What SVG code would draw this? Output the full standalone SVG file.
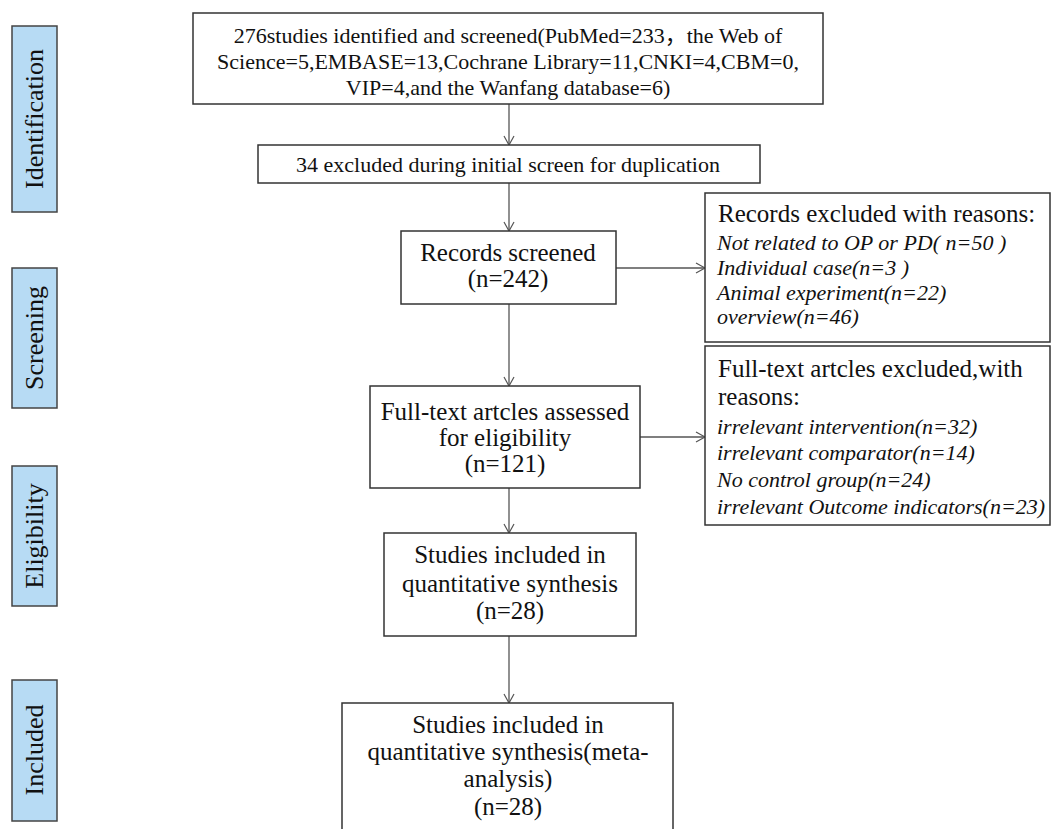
<svg xmlns="http://www.w3.org/2000/svg" width="1052" height="829" viewBox="0 0 1052 829">
<defs>
<marker id="arr" markerWidth="12" markerHeight="12" refX="10" refY="6" orient="auto" markerUnits="userSpaceOnUse">
<path d="M1,1 L10,6 L1,11" fill="none" stroke="#555" stroke-width="1.2"/>
</marker>
</defs>
<style>
.box{fill:#fff;stroke:#333;stroke-width:1.5}
.side{fill:#b7dbf4;stroke:#444;stroke-width:1.5}
.t{font-family:"Liberation Serif","Times New Roman","Noto Sans CJK SC",serif;font-size:25px;fill:#111}
.c{text-anchor:middle}
.sm{font-size:22px}
.i{font-style:italic;font-size:22px}
.s{font-size:26px;text-anchor:middle}
.conn{stroke:#555;stroke-width:1.3;fill:none;marker-end:url(#arr)}
</style>
<rect width="1052" height="829" fill="#fff"/>
<g id="side-identification"><rect class="side" x="12" y="26" width="45" height="186"/><text class="t s" transform="translate(43,119) rotate(-90)">Identification</text></g>
<g id="side-screening"><rect class="side" x="12" y="268" width="45" height="140"/><text class="t s" transform="translate(43,338) rotate(-90)">Screening</text></g>
<g id="side-eligibility"><rect class="side" x="12" y="466" width="45" height="140"/><text class="t s" transform="translate(43,536) rotate(-90)">Eligibility</text></g>
<g id="side-included"><rect class="side" x="12" y="680" width="45" height="141"/><text class="t s" transform="translate(43,750) rotate(-90)">Included</text></g>
<g id="connectors">
<line class="conn" x1="509" y1="104" x2="509" y2="145"/>
<line class="conn" x1="509" y1="183" x2="509" y2="231"/>
<line class="conn" x1="616" y1="268" x2="705" y2="268"/>
<line class="conn" x1="509" y1="304" x2="509" y2="386"/>
<line class="conn" x1="640" y1="437" x2="705" y2="437"/>
<line class="conn" x1="509" y1="488" x2="509" y2="533"/>
<line class="conn" x1="509" y1="636" x2="509" y2="703"/>
</g>
<g id="identified"><rect class="box" x="193" y="13" width="630" height="91"/>
<text class="t sm c" x="508" y="43">276studies identified and screened(PubMed=233，the Web of</text>
<text class="t sm c" x="508" y="69">Science=5,EMBASE=13,Cochrane Library=11,CNKI=4,CBM=0,</text>
<text class="t sm c" x="508" y="95">VIP=4,and the Wanfang database=6)</text></g>
<g id="duplicates"><rect class="box" x="258" y="145" width="502" height="38"/>
<text class="t sm c" x="508" y="172">34 excluded during initial screen for duplication</text></g>
<g id="screened"><rect class="box" x="401" y="231" width="215" height="73"/>
<text class="t c" x="508" y="261">Records screened</text>
<text class="t c" x="508" y="287">(n=242)</text></g>
<g id="excluded-records"><rect class="box" x="705" y="193" width="345" height="149"/>
<text class="t" x="718" y="222">Records excluded with reasons:</text>
<text class="t i" x="717" y="250">Not related to OP or PD( n=50 )</text>
<text class="t i" x="717" y="275">Individual case(n=3 )</text>
<text class="t i" x="717" y="300">Animal experiment(n=22)</text>
<text class="t i" x="717" y="324">overview(n=46)</text></g>
<g id="assessed"><rect class="box" x="370" y="386" width="270" height="102"/>
<text class="t c" x="505" y="420">Full-text artcles assessed</text>
<text class="t c" x="505" y="446">for eligibility</text>
<text class="t c" x="505" y="472">(n=121)</text></g>
<g id="excluded-fulltext"><rect class="box" x="705" y="346" width="345" height="179"/>
<text class="t" x="718" y="377">Full-text artcles excluded,with</text>
<text class="t" x="718" y="405">reasons:</text>
<text class="t i" x="717" y="434">irrelevant intervention(n=32)</text>
<text class="t i" x="717" y="460">irrelevant comparator(n=14)</text>
<text class="t i" x="717" y="487">No control group(n=24)</text>
<text class="t i" x="717" y="514">irrelevant Outcome indicators(n=23)</text></g>
<g id="synthesis"><rect class="box" x="384" y="533" width="252" height="103"/>
<text class="t c" x="510" y="563">Studies included in</text>
<text class="t c" x="510" y="592">quantitative synthesis</text>
<text class="t c" x="510" y="619">(n=28)</text></g>
<g id="meta"><rect class="box" x="342" y="703" width="331" height="140"/>
<text class="t c" x="508" y="733">Studies included in</text>
<text class="t c" x="508" y="760">quantitative synthesis(meta-</text>
<text class="t c" x="508" y="787">analysis)</text>
<text class="t c" x="508" y="815">(n=28)</text></g>
</svg>
